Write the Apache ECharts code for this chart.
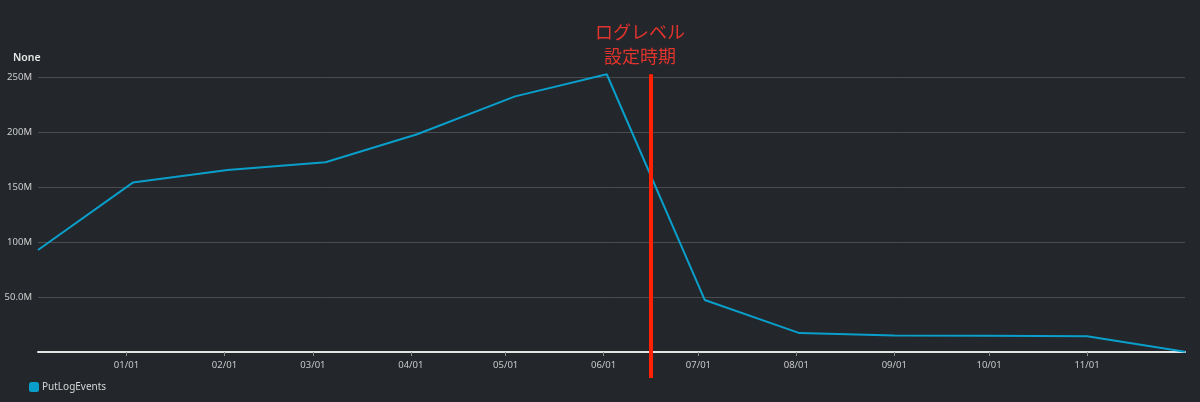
<!DOCTYPE html>
<html>
<head>
<meta charset="utf-8">
<script src="https://cdn.jsdelivr.net/npm/echarts@6/dist/echarts.min.js"></script>
<style>
html,body{margin:0;padding:0;background:#23262b;}
#c{width:1200px;height:402px;}
</style>
</head>
<body>
<div id="c"></div>
<script>
// ---- data ----
const seriesName = 'PutLogEvents';
const dates = ['2022-12-04','2023-01-03','2023-02-02','2023-03-05','2023-04-03','2023-05-04','2023-06-02','2023-07-03','2023-08-02','2023-09-01','2023-10-01','2023-11-01','2023-12-02'];
const values = [92.7e6, 154e6, 165.5e6, 172.5e6, 198e6, 232.4e6, 252.5e6, 47.3e6, 17.2e6, 15.0e6, 14.7e6, 14.4e6, 0.3e6];
const xTickDates = ['2023-01-01','2023-02-01','2023-03-01','2023-04-01','2023-05-01','2023-06-01','2023-07-01','2023-08-01','2023-09-01','2023-10-01','2023-11-01'];
const yTickValues = [50e6, 100e6, 150e6, 200e6, 250e6];
const yTickLabels = ['50.0M', '100M', '150M', '200M', '250M'];
const markerDate = '2023-06-16';
const markerLabel = 'ログレベル\n設定時期';
const unitLabel = 'None';

const ts = d => Date.parse(d + 'T00:00:00Z');
const pad = n => (n < 10 ? '0' : '') + n;
const fmtDate = v => { const d = new Date(v); return pad(d.getUTCMonth() + 1) + '/' + pad(d.getUTCDate()); };

const chart = echarts.init(document.getElementById('c'), null, {renderer: 'canvas'});
const font = '"Noto Sans", "Open Sans", sans-serif';

chart.setOption({
  backgroundColor: '#23262b',
  animation: false,
  title: {
    text: unitLabel, left: 8, top: 48,
    textStyle: {color: '#e6e6e6', fontSize: 10.5, fontWeight: 600, fontFamily: font}
  },
  legend: {
    data: [seriesName], left: 24, top: 377, itemWidth: 10, itemHeight: 10, icon: 'roundRect',
    textStyle: {color: '#d6d6d6', fontSize: 10, fontFamily: font, padding: [0, 0, 0, -2]}
  },
  grid: {left: 38, right: 15, top: 77, bottom: 50, containLabel: false},
  xAxis: {
    type: 'value',
    min: ts(dates[0]), max: ts(dates[dates.length - 1]),
    axisLine: {show: true, lineStyle: {color: '#e4e4e4', width: 2}},
    axisTick: {show: true, customValues: xTickDates.map(ts), length: 4, lineStyle: {color: '#8a8c8f'}},
    axisLabel: {customValues: xTickDates.map(ts), formatter: fmtDate, color: '#c8c8c8', fontSize: 9.5, margin: 8, fontFamily: font},
    splitLine: {show: false}
  },
  yAxis: {
    type: 'value', min: 0, max: 250e6, interval: 50e6,
    axisLine: {show: false}, axisTick: {show: false},
    axisLabel: {
      customValues: yTickValues,
      formatter: v => yTickLabels[yTickValues.indexOf(v)] || '',
      color: '#cfcfcf', fontSize: 9.5, margin: 6, fontFamily: font
    },
    splitLine: {lineStyle: {color: '#4a4c50', width: 1}}
  },
  series: [{
    name: seriesName, type: 'line', clip: false, symbol: 'none',
    color: '#0a9fcb',
    lineStyle: {color: '#0a9fcb', width: 2},
    data: dates.map((d, i) => [ts(d), values[i]])
  }]
});

// red annotation line & label, positioned through the chart's own scales
const mx = chart.convertToPixel({xAxisIndex: 0}, ts(markerDate));
const yTop = chart.convertToPixel({yAxisIndex: 0}, 252.5e6);
const yZero = chart.convertToPixel({yAxisIndex: 0}, 0);
chart.setOption({
  graphic: [
    {type: 'rect', shape: {x: mx - 2, y: yTop, width: 4, height: (yZero - yTop) + 26}, style: {fill: '#ff2200'}, z: 100},
    {type: 'text', x: mx - 11, y: yTop - 54, style: {
      text: markerLabel, fill: '#e0342c', fontSize: 18, lineHeight: 24, align: 'center',
      fontFamily: '"Noto Sans CJK JP", sans-serif'
    }, z: 100}
  ]
});
</script>
</body>
</html>
